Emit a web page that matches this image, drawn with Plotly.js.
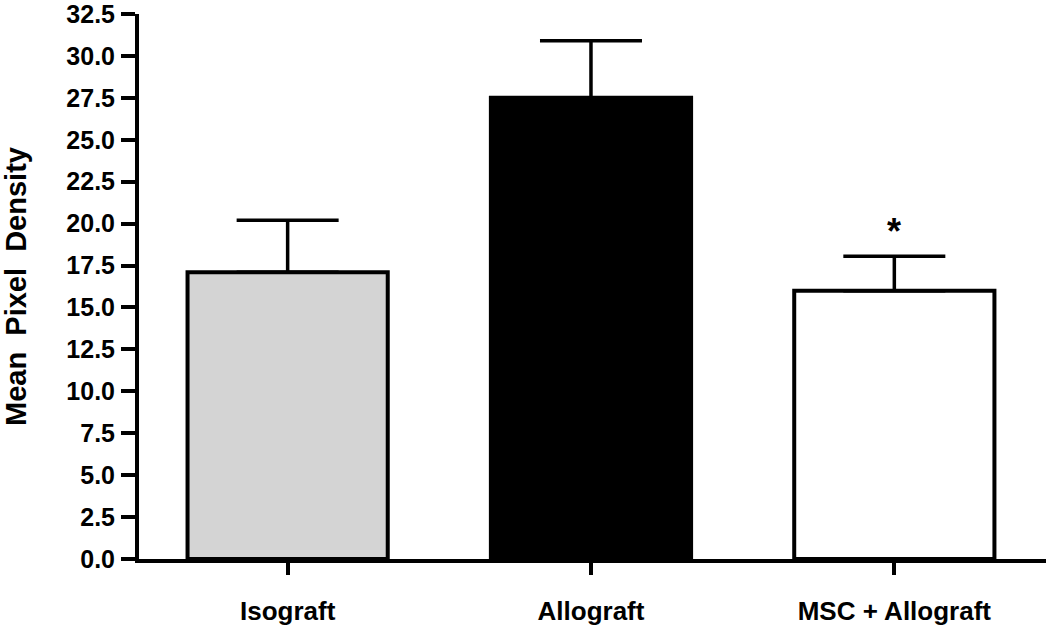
<!DOCTYPE html>
<html>
<head>
<meta charset="utf-8">
<script src="https://cdn.plot.ly/plotly-3.0.1.min.js"></script>
<style>html,body{margin:0;padding:0;background:#fff;}#chart{width:1050px;height:632px;}</style>
</head>
<body>
<div id="chart"></div>
<script>
const categories = ["Isograft", "Allograft", "MSC + Allograft"];
const means = [17.1, 27.5, 16.0];
const errorsUp = [3.1, 3.4, 2.05];
const barColors = ["#d4d4d4", "#000000", "#ffffff"];
const yTickVals = [0, 2.5, 5, 7.5, 10, 12.5, 15, 17.5, 20, 22.5, 25, 27.5, 30, 32.5];
const yTickText = ["0.0", "2.5", "5.0", "7.5", "10.0", "12.5", "15.0", "17.5", "20.0", "22.5", "25.0", "27.5", "30.0", "32.5"];
const significance = ["", "", "*"];

const fontFam = '"Liberation Sans", Arial, Helvetica, sans-serif';

const trace = {
  type: "bar",
  x: categories,
  y: means,
  width: 0.66,
  marker: { color: barColors, line: { color: "#000", width: 4 } },
  error_y: {
    type: "data",
    symmetric: false,
    array: errorsUp,
    arrayminus: means.map(() => 0),
    color: "#000",
    thickness: 3.5,
    width: 51
  },
  hoverinfo: "none"
};

const annotations = categories.map((c, i) => significance[i] ? {
  x: c, y: means[i] + errorsUp[i] + 1.5, xref: "x", yref: "y",
  text: significance[i], showarrow: false,
  font: { family: fontFam, size: 36, color: "#000", weight: 700 }
} : null).filter(a => a);

const layout = {
  width: 1050, height: 632,
  margin: { l: 139, r: 4, t: 14, b: 73 },
  paper_bgcolor: "#fff", plot_bgcolor: "#fff",
  showlegend: false,
  xaxis: {
    range: [-0.49, 2.5],
    showline: true, linecolor: "#000", linewidth: 4,
    ticks: "outside", ticklen: 12, tickwidth: 4, tickcolor: "#000",
    showgrid: false, zeroline: false,
    ticklabelstandoff: 14,
    tickfont: { family: fontFam, size: 26, color: "#000", weight: 700 }
  },
  yaxis: {
    range: [0, 32.5],
    tickvals: yTickVals, ticktext: yTickText,
    ticklabeloverflow: "allow",
    showline: true, linecolor: "#000", linewidth: 4,
    ticks: "outside", ticklen: 14, tickwidth: 4, tickcolor: "#000",
    showgrid: false, zeroline: false,
    ticklabelstandoff: 1,
    tickfont: { family: fontFam, size: 25, color: "#000", weight: 700 },
    title: { text: "Mean&nbsp; Pixel&nbsp; Density", standoff: 36,
      font: { family: fontFam, size: 29, color: "#000", weight: 700 } }
  },
  annotations: annotations
};

Plotly.newPlot("chart", [trace], layout, { displayModeBar: false, staticPlot: true });
</script>
</body>
</html>
